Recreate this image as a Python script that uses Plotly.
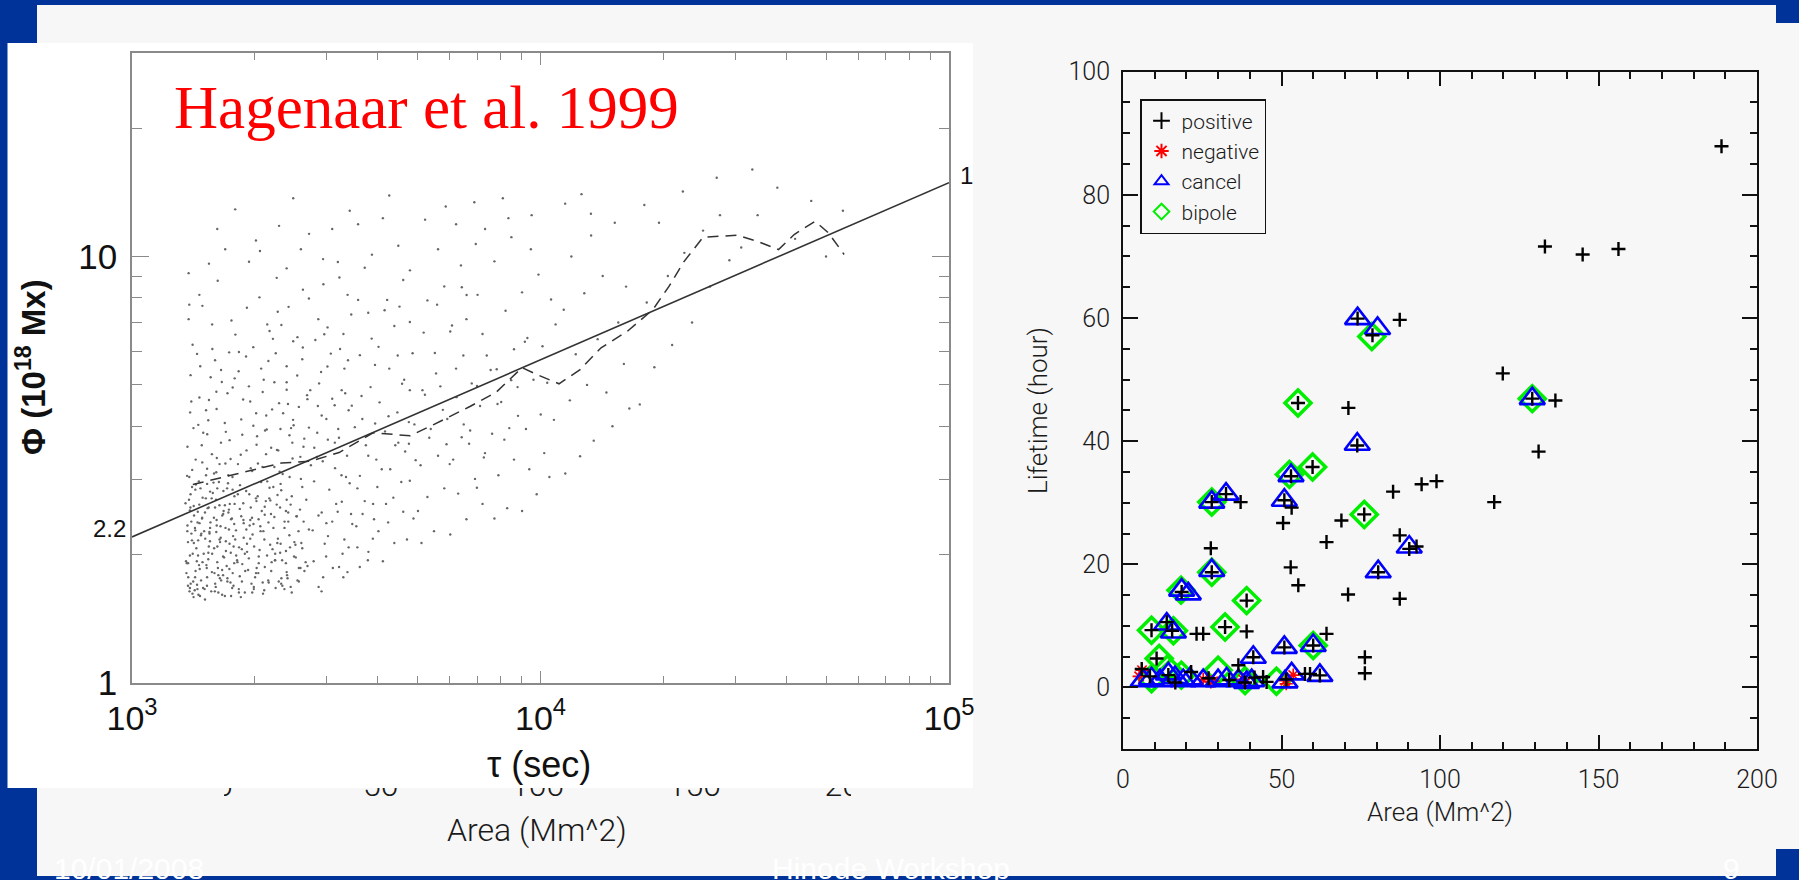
import math
import plotly.graph_objects as go

W, H = 1799, 880


def fx(x):
    return x / W


def fy(y):
    return 1 - y / H


# ---------------- left panel (Hagenaar et al. 1999) ----------------
fit_tau = [1e3, 1e5]
fit_phi = [2.2, 14.9]

mean_tau = [1409, 1836, 2323, 2729, 3214, 3890, 4796, 5460, 6718, 7780, 9014, 9700,
            11100, 12500, 14070, 16290, 18850, 20630, 22450, 24990, 30270, 34070,
            38260, 41780, 47010, 50560, 55370]
mean_phi = [2.92, 3.11, 3.28, 3.31, 3.47, 3.86, 3.80, 4.03, 4.45, 4.80, 5.49, 5.31,
            5.03, 5.43, 6.11, 6.67, 7.51, 8.51, 9.73, 11.09, 11.22, 10.84,
            10.38, 11.26, 12.09, 11.39, 10.11]

# scattered points, (tau [s], phi [1e18 Mx]) read region by region
cloud_a = [(1383, 1.64), (1427, 1.77), (1441, 1.93), (1408, 2.01), (1506, 1.66), (1524, 1.86),
           (1478, 2.24), (1553, 2.31), (1386, 2.54), (1617, 1.92), (1643, 2.14), (1712, 1.73),
           (1731, 1.85), (1672, 2.49), (1597, 2.58), (1429, 2.84), (1527, 2.93), (1768, 2.21),
           (1632, 2.96), (1693, 3.27), (1486, 3.29), (1404, 3.16), (1569, 3.44), (1781, 2.74),
           (1366, 2.27), (1467, 1.6), (1627, 1.63), (1542, 2.09), (1722, 2.51), (1489, 2.72),
           (1671, 1.79), (1447, 2.38), (1511, 2.18), (1608, 2.26), (1773, 2.09), (1372, 1.91),
           (1709, 2.86), (1553, 2.81), (1651, 3.66), (1743, 3.35), (1414, 3.96), (1537, 4.13),
           (1687, 4.07), (1462, 4.67), (1609, 4.82), (1388, 4.31), (1713, 4.78), (1558, 5.21),
           (1443, 5.91), (1652, 5.42), (1784, 5.18), (1407, 6.21), (1571, 6.93), (1752, 7.08),
           (1487, 7.66), (1621, 8.77), (1376, 9.14), (1691, 10.4), (1526, 1.69), (1748, 1.6),
           (1592, 1.81), (1461, 2.62), (1697, 2.15), (1391, 2.77), (1588, 3.1), (1762, 3.04),
           (1494, 3.86), (1613, 3.37), (1364, 3.06), (1451, 1.99)]
cloud_b = [(1827, 1.63), (1893, 1.83), (1987, 1.68), (2043, 1.98), (2161, 1.72), (2238, 1.94),
           (2391, 1.82), (2437, 2.08), (1857, 2.06), (1941, 2.34), (2109, 2.17), (2189, 2.49),
           (2311, 2.12), (2413, 2.39), (1872, 2.64), (2011, 2.71), (2113, 2.59), (2271, 2.76),
           (2391, 2.69), (1838, 2.91), (1969, 3.14), (2071, 2.96), (2231, 3.21), (2338, 3.09),
           (2472, 3.36), (1907, 3.51), (2024, 3.79), (2191, 3.56), (2309, 3.94), (2469, 3.66),
           (1851, 4.15), (2013, 4.29), (2131, 4.24), (2291, 4.53), (2409, 4.51), (1933, 4.96),
           (2101, 5.14), (2231, 5.07), (2391, 5.53), (1827, 5.97), (1981, 6.13), (2171, 6.69),
           (2321, 6.91), (2481, 6.33), (1911, 7.58), (2051, 8.02), (2261, 8.91), (2391, 9.38),
           (2011, 10.9), (2291, 11.8), (1847, 1.59), (2093, 1.62), (2361, 1.66), (1913, 2.03),
           (2241, 2.01), (2041, 2.42), (1877, 2.37), (2171, 2.87), (2431, 3.04), (2281, 3.51),
           (1973, 2.23), (2381, 2.53), (2019, 1.86), (2181, 2.68), (2311, 2.93), (1817, 3.26),
           (2129, 3.44), (2451, 3.96), (2321, 1.76)]
cloud_c = [(2561, 1.73), (2689, 1.88), (2863, 1.68), (2987, 1.98), (3213, 1.87), (3391, 2.08),
           (2611, 2.07), (2769, 2.28), (2963, 2.12), (3091, 2.39), (3311, 2.17), (3437, 2.49),
           (2531, 2.46), (2671, 2.69), (2913, 2.51), (3041, 2.84), (3263, 2.66), (3411, 2.94),
           (2591, 3.01), (2741, 3.24), (2931, 3.31), (3141, 3.19), (3361, 3.41), (2641, 3.74),
           (2841, 3.86), (2991, 4.16), (3211, 3.76), (3391, 4.36), (2561, 4.44), (2731, 4.86),
           (2871, 5.04), (3091, 4.64), (3311, 5.46), (2611, 5.74), (2811, 6.37), (3011, 6.82),
           (3231, 6.07), (3441, 7.31), (2711, 7.97), (2941, 8.61), (3191, 9.71), (3371, 8.13),
           (2591, 10.4), (3091, 11.6), (2911, 1.64), (3291, 1.77), (2661, 1.92), (3161, 2.63),
           (2791, 2.97), (3341, 3.04), (2991, 2.37), (2611, 2.88), (3261, 4.86), (2851, 4.46)]
cloud_d = [(3611, 1.87), (3791, 2.03), (4113, 1.93), (4387, 2.13), (4711, 2.17), (3541, 2.33),
           (3913, 2.42), (4237, 2.38), (4613, 2.52), (4887, 2.43), (3713, 2.67), (3987, 2.88),
           (4363, 2.72), (4787, 2.98), (3613, 3.06), (3963, 3.34), (4287, 3.17), (4663, 3.49),
           (3737, 3.61), (4163, 3.89), (4487, 3.66), (4913, 4.04), (3663, 4.16), (4037, 4.55),
           (4463, 4.31), (4787, 4.86), (3837, 4.94), (4263, 5.46), (4637, 5.14), (3613, 5.87),
           (4013, 6.14), (4387, 6.87), (4863, 5.93), (3787, 7.38), (4213, 7.91), (4613, 8.81),
           (3713, 9.41), (4487, 10.6), (4113, 12.3), (3887, 2.18), (4563, 2.96), (4187, 2.63),
           (3563, 2.86), (4763, 3.64), (3937, 4.06)]
cloud_e = [(5113, 2.13), (5487, 2.27), (6013, 2.23), (6587, 2.42), (7213, 2.63), (5287, 2.73),
           (5813, 2.86), (6287, 2.78), (6913, 3.01), (5087, 3.24), (5613, 3.41), (6113, 3.34),
           (6687, 3.64), (7313, 3.46), (5387, 3.94), (5913, 4.16), (6487, 4.04), (7113, 4.46),
           (5213, 4.74), (5687, 4.96), (6213, 5.46), (6787, 5.04), (7387, 5.86), (5513, 5.94),
           (6013, 6.67), (6587, 7.13), (7213, 6.58), (5287, 7.89), (5813, 8.51), (6387, 9.53),
           (7013, 8.13), (5613, 10.4), (6213, 11.9), (6887, 13.4), (5013, 2.53), (6987, 2.87),
           (6413, 3.77), (5887, 3.63)]
cloud_f = [(7713, 2.43), (8287, 2.57), (9013, 2.53), (9787, 2.77), (10513, 3.04), (7887, 3.07),
           (8613, 3.34), (9387, 3.17), (10213, 3.46), (7613, 3.84), (8387, 3.96), (9213, 3.94),
           (10013, 4.26), (10787, 4.14), (8013, 4.56), (8787, 4.94), (9613, 5.14), (10387, 5.06),
           (7813, 5.44), (8613, 6.06), (9287, 6.44), (10113, 6.16), (10887, 6.93), (8213, 7.46),
           (9013, 8.24), (9887, 9.07), (10613, 7.93), (7713, 9.74), (8487, 11.1), (9513, 12.5),
           (8087, 13.7)]
cloud_g = [(11500, 3.1), (12500, 3.4), (13500, 3.7), (15000, 4.0), (16500, 4.4), (11800, 4.6),
           (13000, 5.0), (14500, 4.8), (16000, 5.6), (12200, 5.9), (13800, 6.4), (15500, 7.0),
           (11400, 7.5), (12800, 8.2), (14200, 9.0), (16200, 8.5), (11900, 10.0), (13300, 11.2),
           (15200, 12.0), (12600, 14.0)]
cloud_h = [(17500, 4.5), (19000, 5.5), (21000, 6.2), (23500, 7.0), (26000, 8.5), (18200, 7.8),
           (20500, 9.0), (22500, 10.2), (25000, 11.5), (27500, 12.5), (29000, 9.8), (19500, 12.0),
           (27000, 15.3)]
cloud_i = [(31000, 10.5), (34000, 12.5), (38000, 14.5), (42000, 11.0), (46000, 13.5),
           (50000, 10.0), (55000, 12.8), (33000, 16.0)]
cloud_core = [(1392, 1.71), (1417, 2.13), (1446, 1.66), (1463, 2.37), (1488, 1.92), (1509, 2.51),
              (1527, 1.77), (1548, 2.24), (1563, 1.64), (1589, 2.07), (1606, 2.69), (1623, 1.86),
              (1647, 2.33), (1671, 1.98), (1688, 2.61), (1712, 1.76), (1733, 2.12), (1756, 2.43),
              (1772, 1.69), (1797, 2.28), (1812, 1.92), (1836, 2.56), (1858, 1.73), (1877, 2.19),
              (1903, 2.82), (1924, 1.84), (1948, 2.41), (1969, 1.63), (1991, 2.09), (2017, 2.67),
              (2038, 1.81), (2064, 2.27), (2089, 1.72), (2113, 2.48), (2141, 1.99), (2168, 2.71),
              (2192, 1.83), (2219, 2.31), (2247, 1.67), (2276, 2.18), (2304, 2.58), (2331, 1.94),
              (2363, 2.39), (2397, 1.79), (2428, 2.22), (2461, 2.74), (2493, 1.98), (2527, 2.46),
              (2561, 1.86), (2597, 2.13), (1403, 2.88), (1431, 1.83), (1458, 2.97), (1476, 1.74),
              (1502, 2.27), (1518, 3.07), (1541, 2.58), (1571, 2.01), (1598, 1.71), (1617, 2.86),
              (1638, 2.17), (1662, 1.61), (1694, 2.31), (1718, 2.94), (1745, 2.02), (1764, 1.81),
              (1783, 2.63), (1426, 2.31), (1371, 2.14), (1386, 1.67), (1415, 1.59), (1452, 2.16),
              (1485, 2.44), (1537, 1.95), (1567, 2.71), (1611, 2.41), (1653, 1.74), (1676, 2.53),
              (1727, 2.29), (1779, 1.91), (1826, 1.66), (1889, 2.01), (1937, 2.77), (1983, 2.36),
              (2043, 1.91), (2107, 1.65), (2158, 2.38), (2208, 2.06), (2261, 2.62), (2318, 1.71),
              (2382, 2.04), (2446, 1.68), (2512, 2.11), (2578, 2.55), (2643, 1.83), (2711, 2.29),
              (2784, 1.93), (2861, 2.47), (2937, 1.77), (3018, 2.21), (3102, 1.86), (3188, 2.52),
              (3277, 2.01), (3369, 1.82), (3461, 2.36), (3562, 2.08), (3668, 2.49), (3779, 1.94),
              (3892, 2.63), (4011, 2.27)]
cloud_dense = [(1356, 1.93), (1874, 2.41), (1493, 1.67), (2218, 2.88), (1627, 1.79), (1402, 2.16),
               (2461, 1.63), (1735, 2.63), (1538, 2.02), (1961, 1.71), (1381, 3.04), (2097, 2.27),
               (1662, 1.84), (1449, 2.52), (2334, 1.69), (1583, 2.95), (1799, 1.99), (1367, 2.34),
               (2542, 1.74), (1516, 2.71), (1705, 1.88), (2179, 2.11), (1424, 1.65), (1851, 2.46),
               (1608, 3.12), (2012, 1.81), (1475, 2.22), (1932, 1.96), (1390, 2.58), (2287, 1.73),
               (1556, 2.38), (1763, 2.84), (2403, 1.76), (1437, 2.07), (1688, 1.6), (2126, 2.67),
               (1362, 1.91), (1905, 2.29), (1527, 3.18), (2585, 1.86), (1649, 2.19), (1412, 1.73),
               (1816, 2.77), (2241, 1.94), (1595, 1.64), (1484, 2.43), (2053, 2.05), (1373, 1.77),
               (1727, 2.55), (2362, 2.31), (1459, 1.89), (1637, 2.61), (1987, 1.66), (1398, 2.24),
               (2497, 2.14), (1569, 1.82), (1779, 2.36), (1433, 2.92), (2155, 1.74), (1618, 2.09),
               (1352, 2.64), (1947, 2.18), (1509, 1.57), (2631, 2.39), (1681, 1.97), (1419, 2.47),
               (1889, 1.63), (2319, 2.83), (1547, 2.26), (1742, 1.72), (2078, 2.53), (1465, 1.85),
               (1379, 2.69), (2197, 1.92), (1612, 2.34), (1836, 1.78), (2445, 2.62), (1498, 2.01),
               (1721, 3.07), (1967, 2.44), (1406, 1.62), (2268, 2.13), (1577, 2.79), (1808, 1.94),
               (1443, 1.7), (2114, 1.87), (1663, 2.47), (2556, 2.27), (1386, 1.99), (1759, 1.67),
               (1532, 2.57), (2031, 2.74), (1428, 2.28), (1912, 2.12), (2381, 1.91), (1641, 1.76),
               (1471, 2.86), (1789, 2.17), (2231, 2.45), (1359, 1.81), (1587, 2.44), (1862, 1.9),
               (2143, 2.97), (1397, 2.39), (1698, 2.04), (2517, 1.97), (1521, 1.89), (1953, 2.58),
               (1454, 1.61), (2305, 2.02), (1674, 2.82), (1371, 1.69), (2061, 2.33), (1552, 2.15),
               (1748, 2.42), (2412, 2.51), (1416, 2.6), (1829, 2.08), (1603, 1.68), (2002, 1.77)]
cloud_mid = [(2034, 3.27), (2117, 3.91), (2203, 4.38), (2298, 3.13), (2391, 5.07), (2487, 4.02),
             (2583, 3.39), (2688, 4.63), (2794, 3.56), (2903, 5.36), (3016, 3.72), (3134, 4.48),
             (3257, 3.07), (3379, 5.71), (3511, 3.98), (3647, 4.71), (3788, 3.41), (3934, 5.57),
             (4087, 3.17), (4246, 4.22), (4411, 3.61), (4583, 5.03), (4761, 4.09), (4947, 3.33),
             (5141, 4.86), (5342, 3.76), (5551, 5.32), (5768, 4.37), (5994, 3.26), (6229, 4.68),
             (6473, 5.86), (6727, 3.91), (6991, 4.97), (7266, 3.38), (7551, 5.42), (7848, 4.51),
             (8156, 3.72), (8477, 5.13), (8810, 4.23), (9157, 6.31), (1862, 3.82), (1947, 4.57),
             (2071, 5.46), (2143, 6.93), (2249, 5.93), (2417, 7.62), (2541, 6.47), (2629, 3.58),
             (2858, 7.13), (3067, 5.92), (3293, 6.58), (3577, 7.91), (3861, 6.42), (4153, 7.48),
             (4472, 5.86), (4788, 7.02), (5176, 6.63), (5583, 7.71), (6072, 6.89), (6593, 8.12),
             (1432, 3.34), (1871, 4.62), (1528, 3.83), (2264, 3.52), (1659, 5.08), (2913, 4.24),
             (1397, 4.57), (2086, 3.21), (1734, 3.71), (2538, 5.26), (1469, 5.53), (1982, 4.01),
             (3137, 3.66), (1611, 4.39), (2391, 4.87), (1846, 3.43), (1367, 3.58), (2711, 3.97),
             (1573, 6.07), (2157, 5.69), (1764, 4.93), (3326, 4.78), (1453, 4.03), (2018, 3.62),
             (2619, 6.12), (1697, 3.88), (1902, 5.83), (1391, 5.27), (2479, 4.14), (1543, 4.61),
             (3009, 5.52), (2213, 6.41), (1638, 3.26), (1791, 6.56), (2836, 3.39), (1482, 3.61),
             (2344, 4.29), (1953, 3.19), (1376, 7.13), (2683, 4.73), (1729, 5.96), (3452, 4.47),
             (2089, 4.81), (1597, 5.71), (2956, 6.57), (1824, 5.38), (2429, 3.81), (1518, 4.36),
             (3198, 3.94), (2137, 3.93)]
cloud_top = [(1462, 8.13), (1934, 9.72), (2713, 11.3), (3867, 10.1), (5218, 12.2), (1617, 11.6),
             (2274, 7.42), (3219, 8.93), (4791, 9.28), (6943, 10.7), (1789, 12.9), (2481, 13.7),
             (3576, 11.9), (5862, 13.1), (8347, 12.3), (1381, 7.71), (2936, 9.86), (4263, 13.9),
             (6418, 8.47), (9472, 10.4), (13287, 12.6), (17954, 13.2), (2057, 10.3), (3412, 12.8),
             (1543, 9.62), (2621, 8.36), (4517, 7.63), (7316, 11.6), (11492, 13.3), (22314, 14.2)]

left_xticks = [1e3, 1e4, 1e5]
left_xticktext = ["10<sup>3</sup>", "10<sup>4</sup>", "10<sup>5</sup>"]
left_xminor = [2e3, 3e3, 4e3, 5e3, 6e3, 7e3, 8e3, 9e3, 2e4, 3e4, 4e4, 5e4, 6e4, 7e4, 8e4, 9e4]
left_yticks = [1, 10]
left_yticktext = ["1", "10"]
left_yminor = [2, 3, 4, 5, 6, 7, 8, 9, 20, 30]

# ---------------- right panel (lifetime vs area) ----------------
positive_x = [188.8, 133.1, 145.0, 156.3, 74.0, 78.7, 87.3, 119.8, 129.1, 136.4, 55.2, 71.1,
              73.9, 131.1, 59.8, 53.0, 85.2, 94.2, 98.9, 117.1, 28.0, 32.5, 37.1, 50.9,
              53.2, 50.5, 76.1, 68.9, 64.2, 87.3, 90.3, 92.6, 27.7, 28.0, 52.9, 55.3,
              80.5, 18.5, 71.0, 87.3, 39.0, 9.0, 13.8, 23.2, 25.3, 32.2, 39.0, 64.2,
              60.0, 50.9, 41.1, 76.3, 76.3, 62.1, 57.4, 59.0, 44.2, 45.3, 36.4, 10.6,
              5.9, 8.5, 14.3, 21.5, 27.0, 33.5, 38.5, 51.5, 16.5, 41.5, 15.5]
positive_y = [87.9, 71.6, 70.3, 71.2, 59.9, 57.2, 59.7, 51.0, 46.9, 46.6, 46.2, 45.4,
              39.3, 38.3, 35.8, 34.3, 31.8, 33.0, 33.5, 30.1, 30.1, 31.4, 30.1, 30.4,
              29.2, 26.7, 28.1, 27.1, 23.6, 24.7, 22.5, 22.9, 22.6, 18.7, 19.5, 16.6,
              18.7, 15.5, 15.1, 14.4, 14.1, 9.3, 10.6, 8.7, 8.7, 9.8, 9.1, 8.7,
              6.8, 6.5, 4.9, 4.9, 2.3, 1.95, 2.2, 2.2, 1.7, 0.9, 3.6, 4.7,
              3.0, 1.8, 2.0, 2.5, 1.5, 1.2, 0.8, 1.3, 0.8, 1.6, 9.2]

negative_x = [5.1, 6.0, 25.3, 28.4, 37.9, 51.5, 53.7, 27.7, 51.2]
negative_y = [1.8, 2.8, 1.3, 1.0, 1.3, 0.6, 2.0, 0.9, 1.1]

cancel_x = [74.0, 80.3, 129.1, 73.9, 53.0, 28.0, 32.5, 50.9, 90.3, 28.0, 80.5, 18.5,
            20.6, 13.8, 15.9, 50.9, 60.0, 41.1, 6.4, 9.0, 11.7, 14.3, 16.4, 19.0,
            21.1, 25.3, 30.0, 32.7, 36.4, 39.0, 40.6, 51.1, 53.2, 62.1]
cancel_y = [59.9, 58.3, 46.9, 39.5, 34.4, 30.1, 31.4, 30.4, 22.8, 19.0, 18.8, 15.8,
            15.2, 10.3, 9.0, 6.5, 6.8, 4.9, 1.1, 1.4, 1.1, 2.2, 1.6, 1.1,
            1.4, 1.1, 1.1, 1.4, 1.1, 0.8, 1.1, 0.9, 2.2, 1.95]

bipole_x = [78.5, 129.1, 55.2, 59.8, 52.5, 28.0, 76.1, 28.0, 18.3, 39.0, 9.0, 15.9,
            32.2, 60.0, 11.4, 9.0, 18.4, 30.0, 38.5, 48.4, 14.0]
bipole_y = [57.0, 46.9, 46.2, 35.8, 34.6, 30.1, 28.1, 18.7, 15.8, 14.1, 9.3, 9.2,
            9.8, 6.8, 4.7, 1.4, 2.0, 2.8, 1.1, 1.0, 3.0]

# tick labels of the hidden panel peeking below the overlay
hidden_ticks = [0, 50, 100, 150, 200]

BLUE = "#003399"
SLIDE = "#f7f7f7"
ROB = "Roboto, Liberation Sans, Arial"
IDL_FONT = dict(family=ROB, size=25, color="#1a1a1a", weight=300)

cloud = (cloud_a + cloud_b + cloud_c + cloud_d + cloud_e + cloud_f + cloud_g + cloud_h
         + cloud_i + cloud_core + cloud_dense + cloud_mid + cloud_top)

fig = go.Figure()

# left panel traces
fig.add_trace(go.Scatter(x=[p[0] for p in cloud], y=[p[1] for p in cloud], mode="markers",
                         marker=dict(size=2.4, color="#666666"), showlegend=False,
                         hoverinfo="skip", xaxis="x", yaxis="y"))
fig.add_trace(go.Scatter(x=fit_tau, y=fit_phi, mode="lines",
                         line=dict(color="#333333", width=1.6), showlegend=False,
                         xaxis="x", yaxis="y"))
fig.add_trace(go.Scatter(x=mean_tau, y=mean_phi, mode="lines",
                         line=dict(color="#333333", width=1.5, dash="11px,7px"),
                         showlegend=False, xaxis="x", yaxis="y"))

# right panel traces
fig.add_trace(go.Scatter(x=bipole_x, y=bipole_y, mode="markers", name="bipole", legendrank=4,
                         marker=dict(symbol="diamond-open", size=20, color="#00ee00",
                                     line=dict(width=3.5, color="#00ee00")),
                         xaxis="x2", yaxis="y2"))
fig.add_trace(go.Scatter(x=negative_x, y=negative_y, mode="markers", name="negative", legendrank=2,
                         marker=dict(symbol="asterisk-open", size=11, color="#ff0000",
                                     line=dict(width=1.6, color="#ff0000")),
                         xaxis="x2", yaxis="y2"))
fig.add_trace(go.Scatter(x=cancel_x, y=cancel_y, mode="markers", name="cancel", legendrank=3,
                         marker=dict(symbol="triangle-up-open", size=22, color="#0000ff",
                                     line=dict(width=2.6, color="#0000ff")),
                         xaxis="x2", yaxis="y2"))
fig.add_trace(go.Scatter(x=positive_x, y=positive_y, mode="markers", name="positive", legendrank=1,
                         marker=dict(symbol="cross-thin-open", size=10, color="#000000",
                                     line=dict(width=2.4, color="#000000")),
                         xaxis="x2", yaxis="y2"))

# hidden panel tick labels (clipped by the overlay edge)
fig.add_trace(go.Scatter(x=hidden_ticks, y=[1.0] * len(hidden_ticks), mode="text",
                         text=[str(v) for v in hidden_ticks],
                         textfont=dict(family=ROB, size=32, color="#1a1a1a", weight=300),
                         cliponaxis=True, showlegend=False, hoverinfo="skip",
                         xaxis="x3", yaxis="y3"))

LGRAY = "#8a8a8a"
fig.update_layout(
    width=W, height=H, margin=dict(l=0, r=0, t=0, b=0, pad=0, autoexpand=False),
    paper_bgcolor=SLIDE, plot_bgcolor="rgba(0,0,0,0)",
    xaxis=dict(type="log", range=[3, 5], domain=[fx(132), fx(949)], anchor="y",
               showline=True, linecolor=LGRAY, linewidth=1.5, mirror="allticks",
               ticks="inside", ticklen=12, tickwidth=1.2, tickcolor=LGRAY,
               tickvals=left_xticks, ticktext=left_xticktext,
               tickfont=dict(family="Liberation Sans, Arial", size=34, color="#111111"),
               minor=dict(tickvals=left_xminor, ticks="inside", ticklen=7, tickwidth=1.2,
                          tickcolor=LGRAY),
               showgrid=False, zeroline=False, ticklabelstandoff=4, automargin=False),
    yaxis=dict(type="log", range=[0, math.log10(30)], domain=[fy(683), fy(53)], anchor="x",
               showline=True, linecolor=LGRAY, linewidth=1.5, mirror="allticks",
               ticks="inside", ticklen=17, tickwidth=1.2, tickcolor=LGRAY,
               tickvals=left_yticks, ticktext=left_yticktext,
               tickfont=dict(family="Liberation Sans, Arial", size=35, color="#111111"),
               minor=dict(tickvals=left_yminor, ticks="inside", ticklen=10, tickwidth=1.2,
                          tickcolor=LGRAY),
               showgrid=False, zeroline=False, ticklabelstandoff=6, automargin=False),
    xaxis2=dict(range=[0, 200], domain=[fx(1123), fx(1757)], anchor="y2",
                showline=True, linecolor="#111111", linewidth=1.8, mirror="allticks",
                ticks="inside", ticklen=14, tickwidth=1.6, tickcolor="#111111",
                tick0=0, dtick=50, tickfont=IDL_FONT,
                minor=dict(dtick=10, ticks="inside", ticklen=7, tickwidth=1.6,
                           tickcolor="#111111"),
                showgrid=False, zeroline=False, ticklabelstandoff=7, automargin=False),
    yaxis2=dict(range=[-10, 100], domain=[fy(749), fy(71.7)], anchor="x2",
                showline=True, linecolor="#111111", linewidth=1.8, mirror="allticks",
                ticks="inside", ticklen=15, tickwidth=1.6, tickcolor="#111111",
                tickvals=[0, 20, 40, 60, 80, 100], tickfont=IDL_FONT,
                minor=dict(dtick=5, tick0=0, ticks="inside", ticklen=7, tickwidth=1.6,
                           tickcolor="#111111"),
                showgrid=False, zeroline=False, ticklabelstandoff=6, automargin=False),
    xaxis3=dict(range=[0, 200], domain=[fx(224), fx(851)], anchor="y3", visible=False),
    yaxis3=dict(range=[0, 1], domain=[fy(830), fy(788)], anchor="x3", visible=False),
    legend=dict(x=fx(1140), y=fy(99), xanchor="left", yanchor="top",
                bgcolor="rgba(0,0,0,0)", bordercolor="#111111", borderwidth=1.5,
                font=dict(family=ROB, size=21, color="#1a1a1a", weight=300),
                itemsizing="constant", tracegroupgap=0, traceorder="normal"),
    showlegend=True,
)

shapes = []
# slide frame
for (x0, y0, x1, y1) in [(0, 0, W, 5), (0, 0, 37, H), (1776, 0, W, 23), (1776, 849, W, H),
                         (0, 876, W, H)]:
    shapes.append(dict(type="rect", xref="paper", yref="paper", x0=fx(x0), x1=fx(x1),
                       y0=fy(y1), y1=fy(y0), fillcolor=BLUE, line=dict(width=0), layer="below"))
# white overlay picture
shapes.append(dict(type="rect", xref="paper", yref="paper", x0=fx(7.5), x1=fx(973),
                   y0=fy(788), y1=fy(43), fillcolor="#ffffff", line=dict(width=0), layer="below"))
fig.update_layout(shapes=shapes)

ann = []


def add_text(text, x, y, size, color, family, xanchor="center", yanchor="middle", angle=0,
             weight=None):
    f = dict(size=size, color=color, family=family)
    if weight is not None:
        f["weight"] = weight
    ann.append(dict(text=text, x=fx(x), y=fy(y), xref="paper", yref="paper", showarrow=False,
                    xanchor=xanchor, yanchor=yanchor, textangle=angle, font=f))


add_text("Hagenaar et al. 1999", 172, 107.5, 61, "#ff0000", "Liberation Serif, Times New Roman",
         xanchor="left")
add_text("2.2", 128, 528, 24, "#111111", "Liberation Sans, Arial", xanchor="right")
add_text("1", 958, 175, 24, "#111111", "Liberation Sans, Arial", xanchor="left")
add_text("Φ (10<sup>18</sup> Mx)", 31, 367, 33, "#111111", "Liberation Sans, Arial",
         angle=-90, weight=700)
add_text("τ (sec)", 539, 764, 36, "#111111", "Liberation Sans, Arial")
add_text("Area (Mm^2)", 537, 830, 32, "#1a1a1a", ROB, weight=300)
add_text("Area (Mm^2)", 1440, 812, 26, "#1a1a1a", ROB, weight=300)
add_text("Lifetime (hour)", 1038, 411, 26, "#1a1a1a", ROB, angle=-90, weight=300)
add_text("10/01/2008", 52, 868, 30, "#ffffff", "Liberation Sans, Arial", xanchor="left")
add_text("Hinode Workshop", 891, 868, 30, "#ffffff", "Liberation Sans, Arial")
add_text("9", 1721, 868, 30, "#ffffff", "Liberation Sans, Arial", xanchor="left")
fig.update_layout(annotations=ann)

fig.write_html("out.html")
